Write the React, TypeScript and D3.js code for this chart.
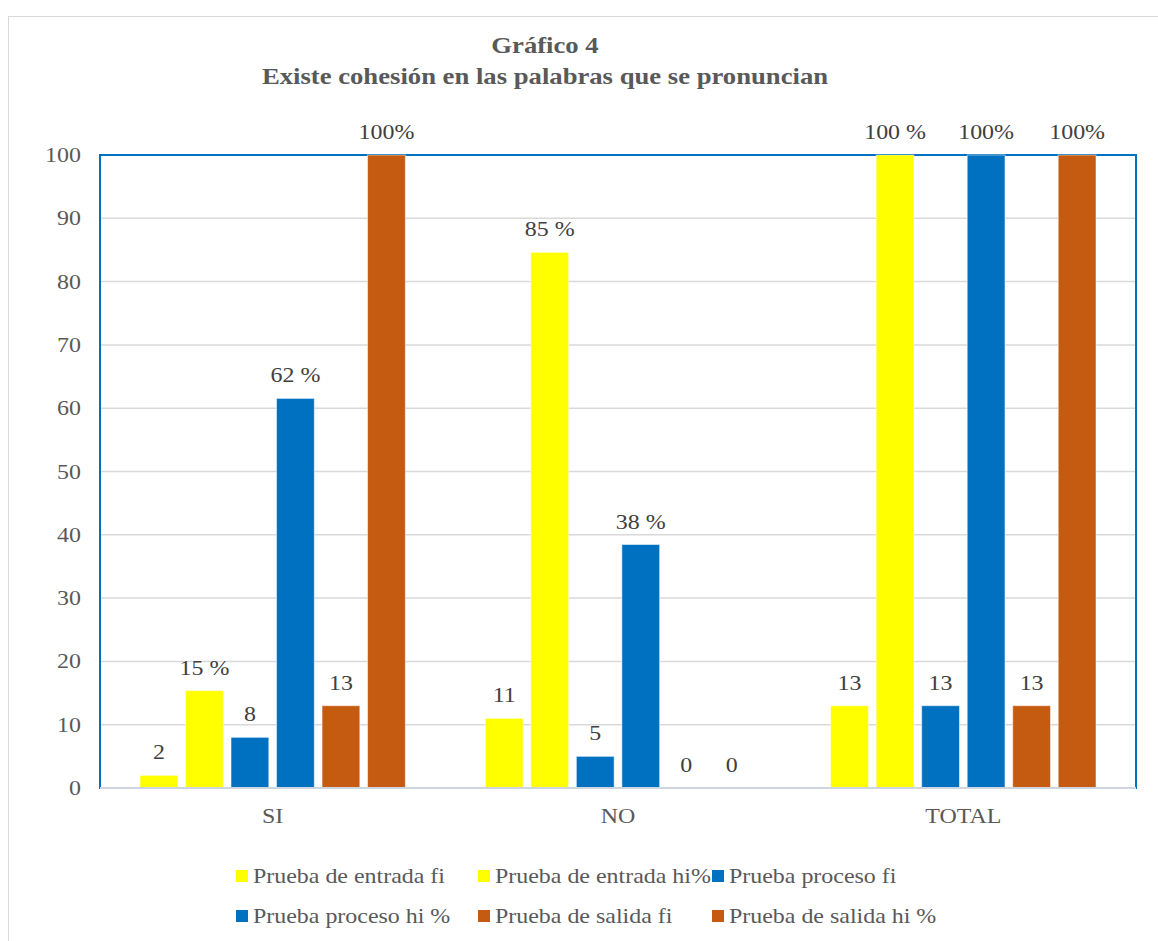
import * as d3 from "d3";

const categories = ["SI", "NO", "TOTAL"];
const seriesNames = [
  "Prueba de entrada fi",
  "Prueba de entrada hi%",
  "Prueba proceso fi",
  "Prueba proceso hi %",
  "Prueba de salida fi",
  "Prueba de salida hi %",
];
const seriesColors = ["#FFFF00", "#FFFF00", "#0070C0", "#0070C0", "#C55A11", "#C55A11"];
// values per series, in category order
const entradaFi = [2, 11, 13];
const entradaHi = [15.38, 84.62, 100];
const procesoFi = [8, 5, 13];
const procesoHi = [61.54, 38.46, 100];
const salidaFi = [13, 0, 13];
const salidaHi = [100, 0, 100];
const seriesValues = [entradaFi, entradaHi, procesoFi, procesoHi, salidaFi, salidaHi];
const seriesLabels = [
  ["2", "11", "13"],
  ["15 %", "85 %", "100 %"],
  ["8", "5", "13"],
  ["62 %", "38 %", "100%"],
  ["13", "0", "13"],
  ["100%", "0", "100%"],
];
const yTicks = [0, 10, 20, 30, 40, 50, 60, 70, 80, 90, 100];

const W = 1158;
const H = 941;
const plot = { left: 100, right: 1136, top: 155, bottom: 788 };
const font = "Liberation Serif, Times New Roman, DejaVu Serif, serif";

// text slightly stretched horizontally, like the source image
function T({
  x,
  y,
  anchor = "start",
  size = 21,
  sx = 1.14,
  weight = "normal",
  fill = "#595959",
  children,
}: {
  x: number;
  y: number;
  anchor?: string;
  size?: number;
  sx?: number;
  weight?: string;
  fill?: string;
  children: React.ReactNode;
}) {
  return (
    <text
      transform={`translate(${x},${y}) scale(${sx},1)`}
      textAnchor={anchor}
      fontFamily={font}
      fontSize={size}
      fontWeight={weight}
      fill={fill}
    >
      {children}
    </text>
  );
}

export default function App() {
  const x0 = d3
    .scaleBand<string>()
    .domain(categories)
    .range([plot.left, plot.right]);
  const x1 = d3
    .scaleBand<number>()
    .domain(d3.range(seriesNames.length))
    .range([40, x0.bandwidth() - 40])
    .paddingInner(0.17);
  const y = d3.scaleLinear().domain([0, 100]).range([plot.bottom, plot.top]);

  const legendCols = [236, 478, 712];
  const legendRows = [876, 916];

  return (
    <svg width={W} height={H} style={{ position: "absolute", left: 0, top: 0, display: "block" }}>
      <rect x={0} y={0} width={W} height={H} fill="#fff" />
      <rect x={8.5} y={16.5} width={W + 10} height={H + 10} fill="#fff" stroke="#d9d9d9" />

      <T x={545} y={53} anchor="middle" size={23} sx={1.16} weight="bold">
        Gráfico 4
      </T>
      <T x={545} y={84} anchor="middle" size={23} sx={1.16} weight="bold">
        Existe cohesión en las palabras que se pronuncian
      </T>

      {yTicks.map((t) => (
        <g key={t}>
          {t > 0 && t < 100 && (
            <line x1={plot.left} x2={plot.right} y1={y(t)} y2={y(t)} stroke="#d9d9d9" strokeWidth={1.5} />
          )}
          <T x={81} y={y(t) + 7} anchor="end">
            {t}
          </T>
        </g>
      ))}

      <rect
        x={plot.left}
        y={plot.top}
        width={plot.right - plot.left}
        height={plot.bottom - plot.top}
        fill="none"
        stroke="#0070C0"
        strokeWidth={2}
      />

      {categories.map((c, ci) => (
        <g key={c}>
          {seriesValues.map((vals, si) => {
            const v = vals[ci];
            const bx = (x0(c) as number) + (x1(si) as number);
            const bw = x1.bandwidth();
            return (
              <g key={si}>
                {v > 0 && (
                  <rect
                    x={bx}
                    y={y(v)}
                    width={bw}
                    height={y(0) - y(v)}
                    fill={seriesColors[si]}
                    stroke="#ffffff"
                    strokeOpacity={0.5}
                    strokeWidth={1}
                  />
                )}
                <T x={bx + bw / 2} y={y(v) - 16} anchor="middle" fill="#404040">
                  {seriesLabels[si][ci]}
                </T>
              </g>
            );
          })}
          <T x={(x0(c) as number) + x0.bandwidth() / 2} y={823} anchor="middle">
            {c}
          </T>
        </g>
      ))}

      <line x1={plot.left} x2={plot.right} y1={plot.bottom} y2={plot.bottom} stroke="#cdd5df" strokeWidth={2} />

      {seriesNames.map((name, i) => {
        const lx = legendCols[i % 3];
        const ly = legendRows[Math.floor(i / 3)];
        return (
          <g key={name}>
            <rect x={lx} y={ly - 6} width={12} height={12} fill={seriesColors[i]} />
            <T x={lx + 17} y={ly + 7}>
              {name}
            </T>
          </g>
        );
      })}
    </svg>
  );
}
